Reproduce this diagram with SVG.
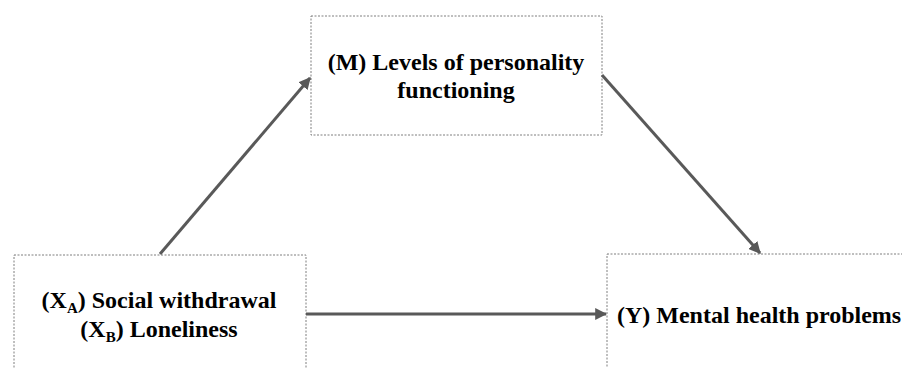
<svg xmlns="http://www.w3.org/2000/svg" width="902" height="368" viewBox="0 0 902 368">
<style>
.box{fill:#fff;stroke:#7f7f7f;stroke-width:1;stroke-dasharray:2 1.5}
text{font-family:'Liberation Serif','Times New Roman','DejaVu Serif',serif;font-weight:bold;font-size:24px;fill:#000}
.sub{font-size:15px}
.c{stroke:#595959;stroke-width:3;fill:none;marker-end:url(#ah)}
</style>
<defs>
<marker id="ah" viewBox="0 0 10 10" refX="9" refY="5" markerWidth="4" markerHeight="4" markerUnits="strokeWidth" orient="auto">
<path d="M0,0 L10,5 L0,10 z" fill="#595959"/>
</marker>
</defs>
<g id="nodeM">
<rect class="box" x="311" y="16" width="291" height="119"/>
<text x="456" y="70" text-anchor="middle">(M) Levels of personality</text>
<text x="456" y="98" text-anchor="middle">functioning</text>
</g>
<g id="nodeX">
<rect class="box" x="14" y="255" width="292" height="130"/>
<text x="159" y="308" text-anchor="middle">(X<tspan class="sub" dy="5">A</tspan><tspan dy="-5">) Social withdrawal</tspan></text>
<text x="159" y="337" text-anchor="middle">(X<tspan class="sub" dy="5">B</tspan><tspan dy="-5">) Loneliness</tspan></text>
</g>
<g id="nodeY">
<rect class="box" x="607" y="254" width="320" height="130"/>
<text x="617" y="323">(Y) Mental health problems</text>
</g>
<g id="connectors">
<line class="c" x1="160" y1="254" x2="310" y2="78"/>
<line class="c" x1="602" y1="75" x2="760" y2="253"/>
<line class="c" x1="306" y1="314" x2="606" y2="314"/>
</g>
</svg>
